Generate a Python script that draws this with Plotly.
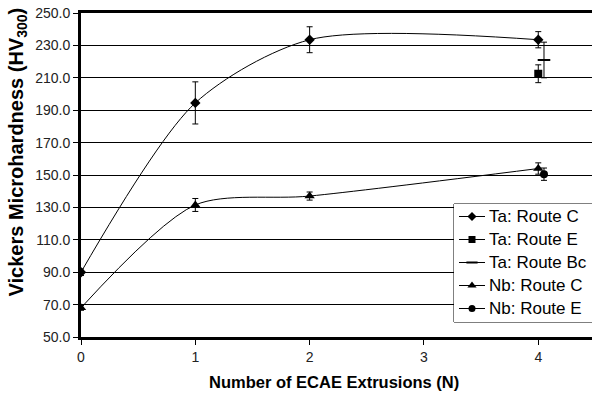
import plotly.graph_objects as go

# Data
ta_c_x = [0, 1, 2, 4]
ta_c_y = [90.0, 194.5, 233.5, 233.5]
ta_c_err = [2.0, 13.0, 8.0, 5.0]

ta_e_x = [4.0]
ta_e_y = [212.5]
ta_e_err = [5.5]

ta_bc_x = [4.05]
ta_bc_y = [221.0]
ta_bc_err = [11.0]

nb_c_x = [0, 1, 2, 4]
nb_c_y = [68.0, 131.5, 137.0, 154.0]
nb_c_err = [1.5, 4.0, 2.5, 3.5]

nb_e_x = [4.05]
nb_e_y = [150.5]
nb_e_err = [3.8]

y_ticks = [50, 70, 90, 110, 130, 150, 170, 190, 210, 230, 250]
x_ticks = [0, 1, 2, 3, 4]

FONT = "Liberation Sans, Arial, sans-serif"
X_MAX = 4.47

def err(vals):
    return dict(type="data", array=vals, visible=True, color="black", thickness=1, width=3)

fig = go.Figure()
# name, x, y, err, symbol, plot marker size, legend marker size
series = [
    ("Ta: Route C", ta_c_x, ta_c_y, ta_c_err, "diamond", 8, 7),
    ("Ta: Route E", ta_e_x, ta_e_y, ta_e_err, "square", 8, 7),
    ("Ta: Route Bc", ta_bc_x, ta_bc_y, ta_bc_err, "line-ew", 9, 8),
    ("Nb: Route C", nb_c_x, nb_c_y, nb_c_err, "triangle-up", 9, 8),
    ("Nb: Route E", nb_e_x, nb_e_y, nb_e_err, "circle", 8, 7),
]
for name, xs, ys, es, sym, sz, lsz in series:
    mk = dict(symbol=sym, size=sz, color="black",
              line=dict(color="black", width=2 if sym == "line-ew" else 0))
    fig.add_trace(go.Scatter(
        x=xs, y=ys, name=name, mode="lines+markers", showlegend=False,
        line=dict(color="black", width=1, shape="spline", smoothing=0.8),
        marker=mk, error_y=err(es),
    ))

# Hand-drawn legend on an auxiliary pixel-unit subplot
LEG_LEFT, LEG_RIGHT, LEG_TOP, LEG_BOTTOM = 454, 592, 204, 322
row_y = [216.5, 239.5, 262.5, 285.5, 308.5]
annotations = []
shapes = []
for (name, xs, ys, es, sym, sz, lsz), ry in zip(series, row_y):
    shapes.append(dict(type="line", xref="x2", yref="y2", x0=459, x1=485, y0=ry, y1=ry,
                       line=dict(color="black", width=1), layer="above"))
    fig.add_trace(go.Scatter(
        x=[472], y=[ry], mode="markers", showlegend=False, hoverinfo="skip",
        marker=dict(symbol=sym, size=lsz, color="black",
                    line=dict(color="black", width=2 if sym == "line-ew" else 0)),
        xaxis="x2", yaxis="y2",
    ))
    annotations.append(dict(text=name, xref="x2", yref="y2", x=487, y=ry,
                            xanchor="left", yanchor="middle", showarrow=False,
                            font=dict(size=17, family=FONT, color="black")))

# legend box (in main-axis data units, between gridlines and traces)
px_per_x = 511 / X_MAX
px_per_y = 324 / 200
shapes.insert(0, dict(type="rect", xref="x", yref="y",
              x0=(LEG_LEFT - 81) / px_per_x, x1=X_MAX + 0.2,
              y0=50 + (337 - LEG_BOTTOM) / px_per_y, y1=50 + (337 - LEG_TOP) / px_per_y,
              fillcolor="white", line=dict(color="black", width=1), layer="between"))

annotations += [
    dict(text="<b>Number of ECAE Extrusions (N)</b>", xref="paper", yref="paper",
         x=0.495, y=-0.139, xanchor="center", yanchor="middle", showarrow=False,
         font=dict(size=16.5, family=FONT, color="black")),
    dict(text="<b>Vickers Microhardness (HV<sub>300</sub>)</b>", xref="paper", yref="paper",
         x=-0.125, y=0.57, xanchor="center", yanchor="middle", showarrow=False,
         textangle=-90, font=dict(size=20, family=FONT, color="black")),
]

fig.update_layout(
    width=592, height=395,
    margin=dict(l=81, r=0, t=13, b=58),
    paper_bgcolor="white", plot_bgcolor="white",
    font=dict(family=FONT, size=14, color="black"),
    showlegend=False,
    xaxis=dict(
        range=[0, X_MAX], tickvals=x_ticks, ticktext=[str(v) for v in x_ticks],
        showgrid=False, zeroline=False,
        showline=True, linecolor="black", linewidth=3, mirror=True,
        ticks="outside", ticklen=5, tickcolor="black", tickwidth=1,
        tickfont=dict(size=14, color="#222"),
    ),
    yaxis=dict(
        range=[50, 250], tickvals=y_ticks, tickformat=".1f",
        showgrid=True, gridcolor="black", gridwidth=1, zeroline=False,
        showline=True, linecolor="black", linewidth=3,
        ticks="outside", ticklen=5, tickcolor="black", tickwidth=1,
        tickfont=dict(size=14, color="#222"),
    ),
    xaxis2=dict(domain=[(LEG_LEFT - 81) / 511, 1.0], range=[LEG_LEFT, LEG_RIGHT],
                visible=False, anchor="y2", fixedrange=True),
    yaxis2=dict(domain=[(337 - LEG_BOTTOM) / 324, (337 - LEG_TOP) / 324],
                range=[LEG_BOTTOM, LEG_TOP], visible=False, anchor="x2", fixedrange=True),
    annotations=annotations,
    shapes=shapes,
)

fig.write_html("out.html")
